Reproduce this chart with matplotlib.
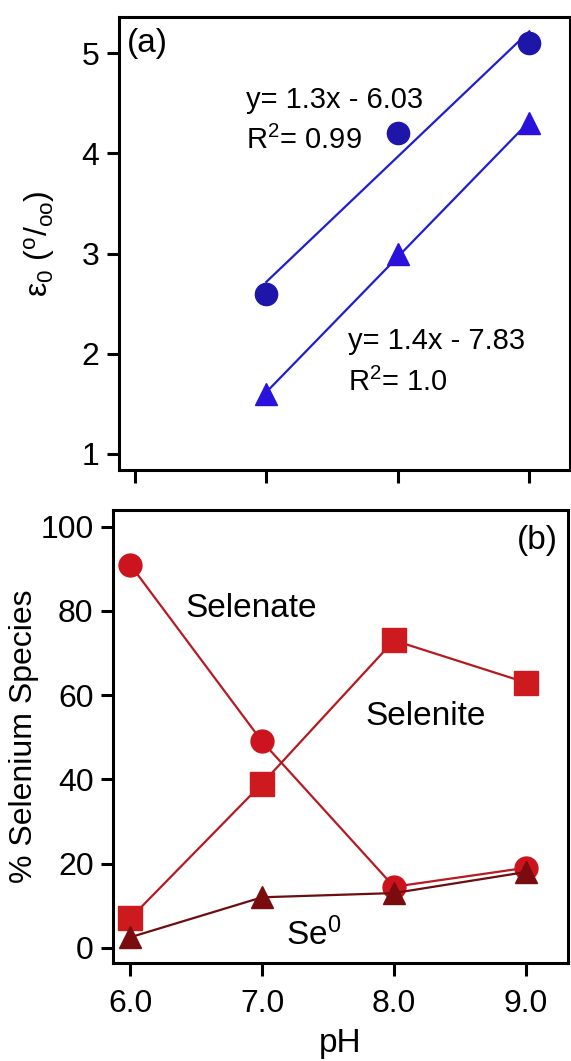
import numpy as np
import matplotlib
matplotlib.use("Agg")
import matplotlib.pyplot as plt

plt.rcParams['font.family'] = ['Liberation Sans', 'DejaVu Sans']
plt.rcParams['mathtext.fontset'] = 'custom'
plt.rcParams['mathtext.rm'] = 'Liberation Sans'
plt.rcParams['mathtext.it'] = 'Liberation Sans:italic'
plt.rcParams['mathtext.bf'] = 'Liberation Sans:bold'

# ---- data ----
ph_a = [7.0, 8.0, 9.0]
eps_circle = [2.6, 4.2, 5.1]
eps_triangle = [1.6, 3.0, 4.3]
eq_circle = ["y= 1.3x - 6.03", "R$^2$= 0.99"]
eq_triangle = ["y= 1.4x - 7.83", "R$^2$= 1.0"]

ph_b = [6.0, 7.0, 8.0, 9.0]
selenate = [91, 49, 14.5, 19]
selenite = [7, 39, 73, 63]
se0 = [2.5, 12, 13, 18]

xticks = [6.0, 7.0, 8.0, 9.0]
xticklabels = ["6.0", "7.0", "8.0", "9.0"]
yticks_a = [1, 2, 3, 4, 5]
yticks_b = [0, 20, 40, 60, 80, 100]

fig = plt.figure(figsize=(5.71, 10.61), dpi=100)
ax1 = fig.add_axes([0.2084, 0.557, 0.790, 0.427])
ax2 = fig.add_axes([0.198, 0.0924, 0.797, 0.427])

FS = 23
for ax in (ax1, ax2):
    for sp in ax.spines.values():
        sp.set_linewidth(2.2)
    ax.tick_params(direction='out', length=9, width=2.2, labelsize=FS, pad=5,
                   top=False, right=False)

# ---- panel (a) ----
xa = np.array(ph_a)
for yv, col, mk, ms in ((eps_circle, '#1e16a8', 'o', 16), (eps_triangle, '#2a12dc', '^', 16)):
    p = np.polyfit(xa, yv, 1)
    ax1.plot(xa, np.polyval(p, xa), '-', color='#1e1ed2', lw=1.6, zorder=2)
    ax1.plot(xa, yv, mk, color=col, ms=ms, mec=col, zorder=3)

ax1.set_xlim(5.88, 9.31)
ax1.set_ylim(0.84, 5.36)
ax1.set_xticks(xticks)
ax1.set_xticklabels([])
ax1.set_yticks(yticks_a)
ax1.set_ylabel(r'ε$_0$ ($^\mathrm{o}$/$_\mathrm{oo}$)', fontsize=FS, va='center')
ax1.yaxis.set_label_coords(-0.177, 0.5)

ax1.text(6.845, 4.45, eq_circle[0], fontsize=21, ha='left', va='baseline')
ax1.text(6.845, 4.04, eq_circle[1], fontsize=21, ha='left', va='baseline')
ax1.text(7.62, 2.05, eq_triangle[0], fontsize=21, ha='left', va='baseline')
ax1.text(7.62, 1.63, eq_triangle[1], fontsize=21, ha='left', va='baseline')
ax1.text(5.94, 5.1, "(a)", fontsize=24, ha='left', va='center')

# ---- panel (b) ----
ax2.plot(ph_b, selenate, '-', color='#b81a22', lw=1.6, zorder=2)
ax2.plot(ph_b, selenate, 'o', color='#cc141e', ms=16.5, zorder=3)
ax2.plot(ph_b, selenite, '-', color='#b41a1e', lw=1.6, zorder=2)
ax2.plot(ph_b, selenite, 's', color='#cc1a1f', ms=17, zorder=3)
ax2.plot(ph_b, se0, '-', color='#6e0d10', lw=1.6, zorder=4)
ax2.plot(ph_b, se0, '^', color='#7a0c10', ms=16.5, zorder=5)

ax2.set_xlim(5.87, 9.32)
ax2.set_ylim(-3.6, 104)
ax2.set_xticks(xticks)
ax2.set_xticklabels(xticklabels)
ax2.set_yticks(yticks_b)
ax2.tick_params(axis='x', pad=10)
ax2.set_xlabel("pH", fontsize=24, labelpad=6)
ax2.set_ylabel("% Selenium Species", fontsize=FS, va='center')
ax2.yaxis.set_label_coords(-0.196, 0.5)

ax2.text(6.42, 78.6, "Selenate", fontsize=24, ha='left', va='baseline')
ax2.text(7.78, 53.0, "Selenite", fontsize=24, ha='left', va='baseline')
ax2.text(7.18, 0.6, "Se$^0$", fontsize=24, ha='left', va='baseline')
ax2.text(9.24, 96.7, "(b)", fontsize=24, ha='right', va='center')

fig.savefig("out.png", dpi=100)
